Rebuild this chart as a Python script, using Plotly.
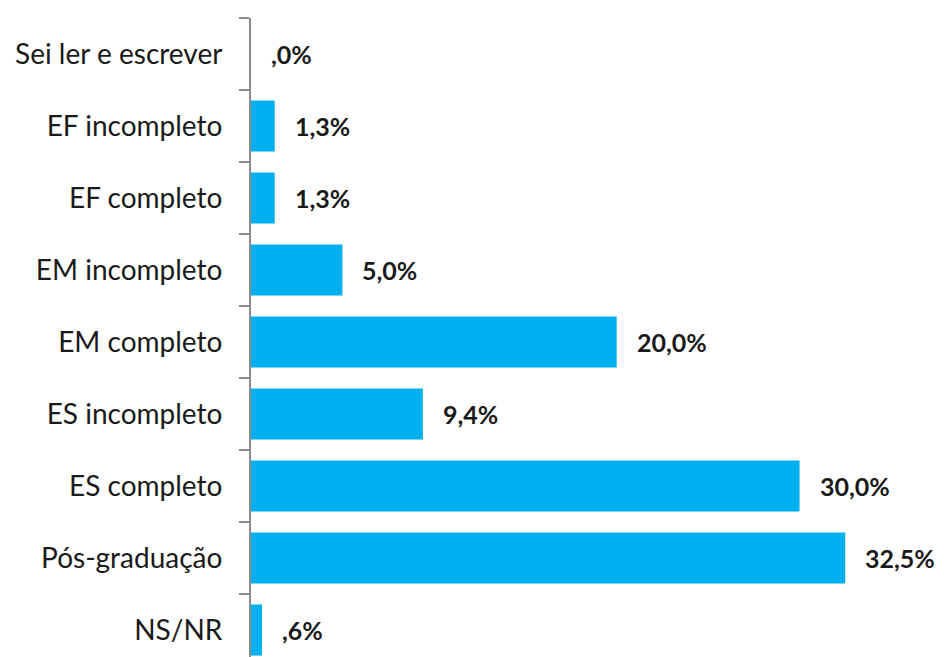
import plotly.graph_objects as go

categories = ["Sei ler e escrever", "EF incompleto", "EF completo", "EM incompleto",
              "EM completo", "ES incompleto", "ES completo", "Pós-graduação", "NS/NR"]
values = [0.0, 1.3, 1.3, 5.0, 20.0, 9.4, 30.0, 32.5, 0.6]
value_labels = [",0%", "1,3%", "1,3%", "5,0%", "20,0%", "9,4%", "30,0%", "32,5%", ",6%"]

BAR = "#00B0F0"
TXT = "#1a1a1a"
FONT = "Lato"

fig = go.Figure(go.Bar(
    x=values, y=categories, orientation="h",
    marker=dict(color=BAR, line=dict(width=0)),
    width=0.71,
    hoverinfo="skip",
))

for c, v, t in zip(categories, values, value_labels):
    fig.add_annotation(x=v, y=c, text=f"<b>{t}</b>", showarrow=False,
                       xanchor="left", yanchor="middle", xshift=18,
                       font=dict(family=FONT, size=25, color=TXT))

# page body has an 8px default margin, so the figure is sized to fit inside it
fig.update_layout(
    width=936, height=649,
    margin=dict(l=243, r=0, t=10, b=0, autoexpand=False),
    paper_bgcolor="white", plot_bgcolor="white",
    showlegend=False,
    font=dict(family=FONT, size=28, color=TXT),
    xaxis=dict(range=[0, 37.9], visible=False, fixedrange=True),
    yaxis=dict(
        type="category", categoryorder="array", categoryarray=categories,
        range=[8.375, -0.5],
        showline=True, linecolor="#8c8c8c", linewidth=2,
        ticks="outside", tickson="boundaries", ticklen=10, tickcolor="#8c8c8c", tickwidth=2,
        showgrid=False, zeroline=False,
        ticklabelstandoff=21,
        tickfont=dict(family=FONT, size=28, color=TXT),
    ),
)

fig.write_html("out.html")
